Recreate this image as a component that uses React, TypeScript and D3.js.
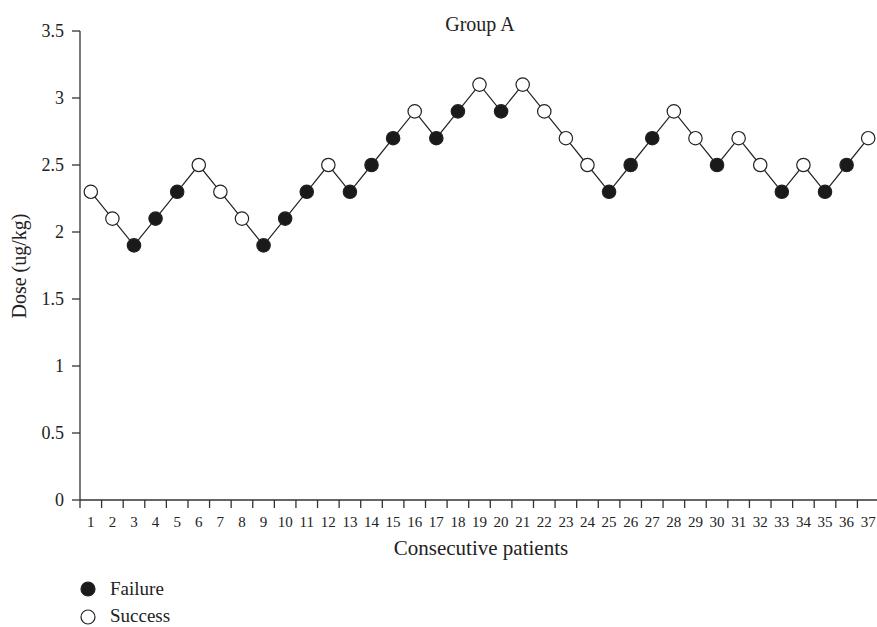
import React from "react";
import * as d3 from "d3";

const patients = d3.range(1, 38).map(String);
const doses = [2.3, 2.1, 1.9, 2.1, 2.3, 2.5, 2.3, 2.1, 1.9, 2.1, 2.3, 2.5, 2.3, 2.5, 2.7, 2.9, 2.7, 2.9, 3.1, 2.9, 3.1, 2.9, 2.7, 2.5, 2.3, 2.5, 2.7, 2.9, 2.7, 2.5, 2.7, 2.5, 2.3, 2.5, 2.3, 2.5, 2.7];
const outcomes = ["S","S","F","F","F","S","S","S","F","F","F","S","F","F","F","S","F","F","S","F","S","S","S","S","F","F","F","S","S","F","S","S","F","S","F","F","S"];
const yTicks = [0, 0.5, 1, 1.5, 2, 2.5, 3, 3.5];
const legendItems = [{ key: "F", label: "Failure" }, { key: "S", label: "Success" }];

const W = 877, H = 627;
const FONT = "'Liberation Serif', 'DejaVu Serif', serif";

export default function App() {
  const x = d3.scaleBand().domain(patients).range([80, 879]).padding(0);
  const y = d3.scaleLinear().domain([0, 3.5]).range([500, 31]);
  const cx = (i: number) => (x(patients[i]) as number) + x.bandwidth() / 2;
  const line = d3.line<number>().x((_, i) => cx(i)).y((d) => y(d));
  const boundaries = patients.map((p) => x(p) as number);

  return (
    <svg width={W} height={H} style={{ position: "absolute", left: 0, top: 0, background: "#fff" }}>
      <text x={480} y={31} textAnchor="middle" fontFamily={FONT} fontSize={20} fill="#222">Group A</text>
      {/* y axis */}
      <line x1={80} x2={80} y1={y(3.5)} y2={y(0)} stroke="#333" strokeWidth={1.3} />
      {yTicks.map((t) => (
        <g key={t}>
          <line x1={72} x2={80} y1={y(t)} y2={y(t)} stroke="#333" strokeWidth={1.3} />
          <text x={64} y={y(t) + 5.5} textAnchor="end" fontFamily={FONT} fontSize={18} fill="#222">{t}</text>
        </g>
      ))}
      <text transform={`translate(26,${266}) rotate(-90)`} textAnchor="middle" fontFamily={FONT} fontSize={20} fill="#222">Dose (ug/kg)</text>
      {/* x axis */}
      <line x1={80} x2={879} y1={500} y2={500} stroke="#333" strokeWidth={1.3} />
      {boundaries.map((b, i) => (
        <line key={i} x1={b} x2={b} y1={500} y2={508} stroke="#333" strokeWidth={1.3} />
      ))}
      {patients.map((p, i) => (
        <text key={p} x={cx(i)} y={527} textAnchor="middle" fontFamily={FONT} fontSize={15} fill="#222">{p}</text>
      ))}
      <text x={481} y={555} textAnchor="middle" fontFamily={FONT} fontSize={21} fill="#222">Consecutive patients</text>
      {/* data */}
      <path d={line(doses) as string} fill="none" stroke="#222" strokeWidth={1.2} />
      {doses.map((d, i) => (
        <circle key={i} cx={cx(i)} cy={y(d)} r={6.7} fill={outcomes[i] === "F" ? "#1a1a1a" : "#fff"} stroke="#222" strokeWidth={1.2} />
      ))}
      {/* legend */}
      {legendItems.map((item, i) => (
        <g key={item.key}>
          <circle cx={88} cy={589 + i * 28} r={7} fill={item.key === "F" ? "#1a1a1a" : "#fff"} stroke="#222" strokeWidth={1.2} />
          <text x={110} y={595 + i * 27} fontFamily={FONT} fontSize={19} fill="#222">{item.label}</text>
        </g>
      ))}
    </svg>
  );
}
